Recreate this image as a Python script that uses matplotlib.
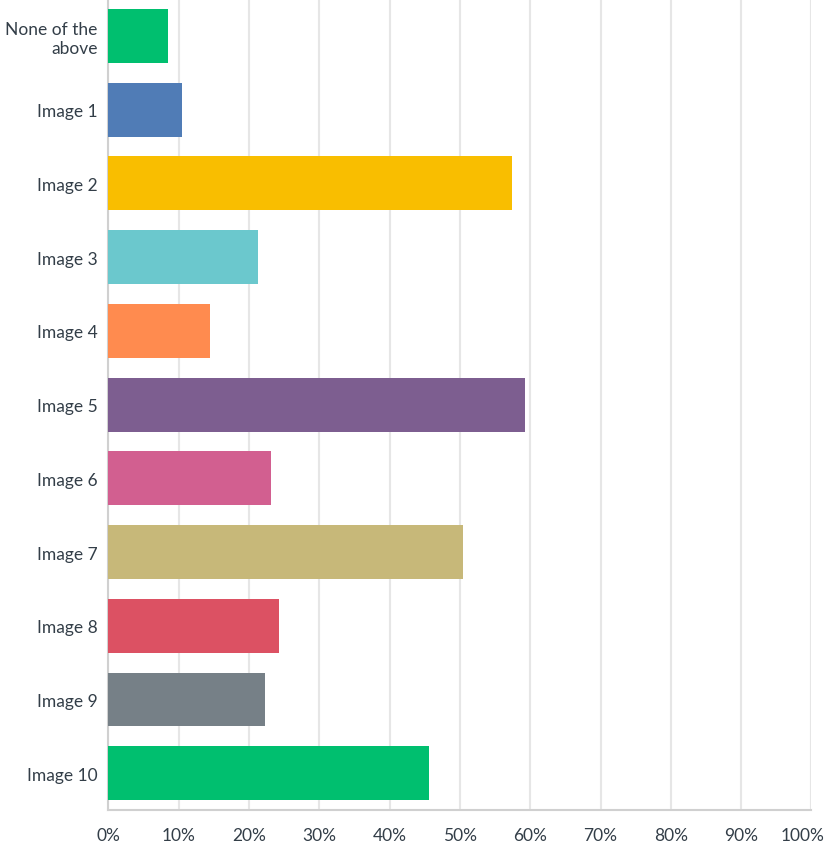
import matplotlib.pyplot as plt
import matplotlib.transforms as mtransforms
import numpy as np

categories = ["None of the\nabove", "Image 1", "Image 2", "Image 3", "Image 4", "Image 5",
              "Image 6", "Image 7", "Image 8", "Image 9", "Image 10"]
values = [8.5, 10.5, 57.4, 21.2, 14.4, 59.3, 23.1, 50.4, 24.2, 22.2, 45.6]
colors = ["#00BF6F", "#507CB6", "#F9BE00", "#6BC8CD", "#FF8B4F", "#7D5E90",
          "#D25F90", "#C7B879", "#DC5163", "#768087", "#00BF6F"]
xticks = list(range(0, 101, 10))
xlabels = [f"{t}%" for t in xticks]

plt.rcParams['font.family'] = ['Lato', 'DejaVu Sans']

fig = plt.figure(figsize=(8.25, 8.45), dpi=100)
ax = fig.add_axes([0.1315, 0.040, 0.852, 0.960])

y = np.arange(len(categories))
ax.barh(y, values, height=0.73, color=colors, zorder=3)

ax.set_ylim(len(categories) - 0.5, -0.5)
ax.set_xlim(0, 100)
ax.set_yticks(y)
ax.set_yticklabels(categories, fontsize=12.5, color="#333E48")
ax.set_xticks(xticks)
ax.set_xticklabels(xlabels, fontsize=12.5, color="#333E48")
ax.tick_params(axis='both', length=0)
ax.tick_params(axis='y', pad=8)
ax.tick_params(axis='x', pad=12)
ax.grid(axis='x', color="#E6E6E6", linewidth=1.5, zorder=0)

# the 100% label sits a bit to the left so it stays inside the picture
last = ax.get_xticklabels()[-1]
last.set_transform(last.get_transform() + mtransforms.ScaledTranslation(-9 / 100, 0, fig.dpi_scale_trans))

for side in ['top', 'right']:
    ax.spines[side].set_visible(False)
ax.spines['left'].set_color("#D0D0D0")
ax.spines['left'].set_linewidth(1.5)
ax.spines['bottom'].set_color("#D0D0D0")
ax.spines['bottom'].set_linewidth(1.5)

fig.savefig("out.png", dpi=100)
